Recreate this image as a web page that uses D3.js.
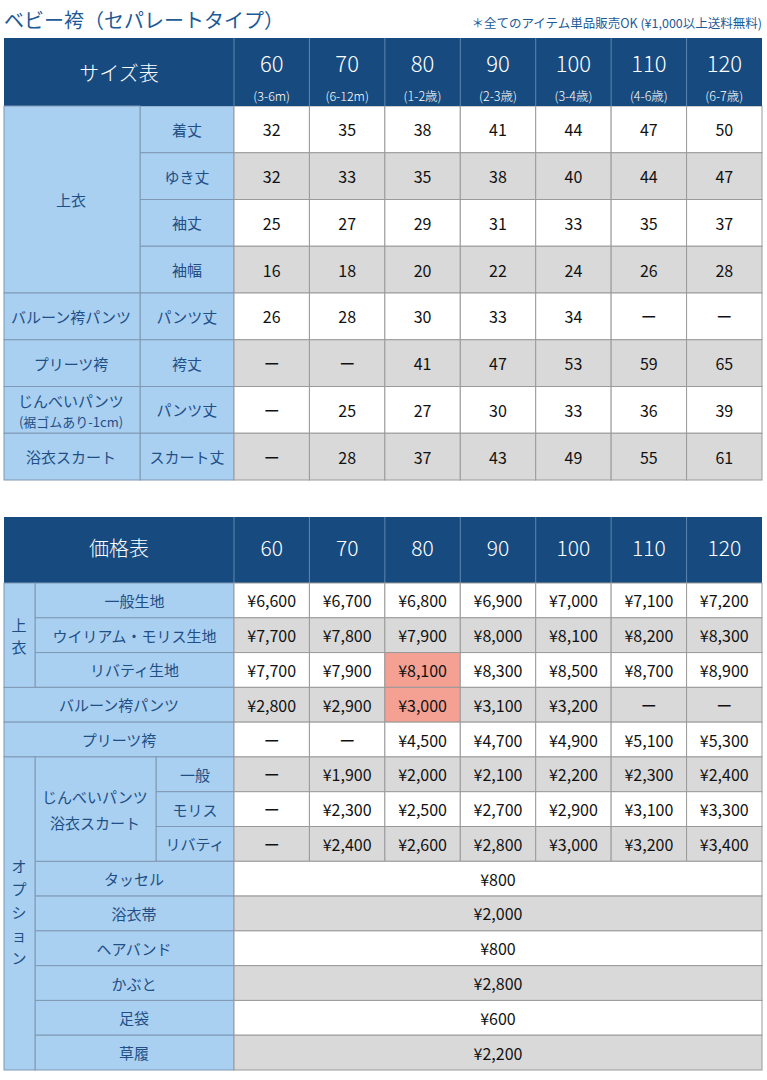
<!DOCTYPE html><html><head><meta charset="utf-8"><script src="https://cdn.jsdelivr.net/npm/d3@7"></script>
<style>body{margin:0;background:#fff}svg{display:block}text{font-family:"Noto Sans CJK JP",sans-serif}</style></head><body><svg id="c" width="767" height="1080"></svg>
<script>
const sizes=["60","70","80","90","100","110","120"];
const ages=["(3-6m)","(6-12m)","(1-2歳)","(2-3歳)","(3-4歳)","(4-6歳)","(6-7歳)"];
const sizeRows=["着丈","ゆき丈","袖丈","袖幅","パンツ丈","袴丈","パンツ丈","スカート丈"];
const sizeVals=[[32,35,38,41,44,47,50],[32,33,35,38,40,44,47],[25,27,29,31,33,35,37],[16,18,20,22,24,26,28],[26,28,30,33,34,"ー","ー"],["ー","ー",41,47,53,59,65],["ー",25,27,30,33,36,39],["ー",28,37,43,49,55,61]];
const priceVals=[["¥6,600","¥6,700","¥6,800","¥6,900","¥7,000","¥7,100","¥7,200"],["¥7,700","¥7,800","¥7,900","¥8,000","¥8,100","¥8,200","¥8,300"],["¥7,700","¥7,900","¥8,100","¥8,300","¥8,500","¥8,700","¥8,900"],["¥2,800","¥2,900","¥3,000","¥3,100","¥3,200","ー","ー"],["ー","ー","¥4,500","¥4,700","¥4,900","¥5,100","¥5,300"],["ー","¥1,900","¥2,000","¥2,100","¥2,200","¥2,300","¥2,400"],["ー","¥2,300","¥2,500","¥2,700","¥2,900","¥3,100","¥3,300"],["ー","¥2,400","¥2,600","¥2,800","¥3,000","¥3,200","¥3,400"]];
const optNames=["タッセル","浴衣帯","ヘアバンド","かぶと","足袋","草履"];
const optPrices=["¥800","¥2,000","¥800","¥2,800","¥600","¥2,200"];
const svg=d3.select("#c");
const NAVY="#174b7f",LB="#a9d0f1",GR="#d9d9d9",TXT="#1f4f86",LINE="#7f98b3";
const x=d3.scaleBand().domain(sizes).range([234,762]);
function rect(x0,y0,w,h,f,s){svg.append("rect").attr("x",x0).attr("y",y0).attr("width",w).attr("height",h).attr("fill",f).attr("stroke",s||"none").attr("stroke-width",1);}
function txt(t,cx,cy,sz,col,anchor){return svg.append("text").attr("x",cx).attr("y",cy).attr("text-anchor",anchor||"middle").attr("dominant-baseline","central").attr("font-size",sz).attr("fill",col).text(t);}
txt("ベビー袴（セパレートタイプ）",4,19,20,"#1d5a96","start");
txt("＊全てのアイテム単品販売OK (¥1,000以上送料無料)",762,22,12.5,"#1d5a96","end");
rect(4,38,758,70,NAVY);
txt("サイズ表",119,72,20,"#fff").attr("font-weight",300);
sizes.forEach((s,i)=>{const cx=x(s)+x.bandwidth()/2;txt(s,cx,62,22,"#fff").attr("font-weight",300);txt(ages[i],cx,95,12.5,"#fff").attr("font-weight",300);
 svg.append("line").attr("x1",x(s)).attr("x2",x(s)).attr("y1",38).attr("y2",108).attr("stroke","#5e86b0");});
const y1=d3.scaleBand().domain(d3.range(8)).range([106,480]);
const h1=y1.bandwidth();
sizeVals.forEach((row,r)=>{const y=y1(r),bg=r%2?GR:"#fff";
 rect(140,y,94,h1,LB,LINE);txt(sizeRows[r],187,y+h1/2,15,TXT);
 row.forEach((v,i)=>{rect(x(sizes[i]),y,x.bandwidth(),h1,bg,"#9a9a9a");txt(v,x(sizes[i])+x.bandwidth()/2,y+h1/2,16,"#111");});});
rect(4,38,758,68,NAVY);
txt("サイズ表",119,72,20,"#fff").attr("font-weight",300);
sizes.forEach((s,i)=>{const cx=x(s)+x.bandwidth()/2;txt(s,cx,62,22,"#fff").attr("font-weight",300);txt(ages[i],cx,95,12.5,"#fff").attr("font-weight",300);
 svg.append("line").attr("x1",x(s)).attr("x2",x(s)).attr("y1",38).attr("y2",106).attr("stroke","#5e86b0");});
const grp=[["上衣",0,4],["バルーン袴パンツ",4,1],["プリーツ袴",5,1],["じんべいパンツ",6,1],["浴衣スカート",7,1]];
grp.forEach(([n,s,k])=>{rect(4,y1(s),136,h1*k,LB,LINE);
 if(n==="じんべいパンツ"){txt(n,71,y1(s)+14,15,TXT);txt("(裾ゴムあり-1cm)",71,y1(s)+35,13,TXT);}
 else txt(n,71,y1(s)+h1*k/2,15,TXT);});
rect(4,517,758,66,NAVY);
txt("価格表",119,547,20,"#fff").attr("font-weight",300);
sizes.forEach(s=>{txt(s,x(s)+x.bandwidth()/2,547,21,"#fff").attr("font-weight",300);svg.append("line").attr("x1",x(s)).attr("x2",x(s)).attr("y1",517).attr("y2",583).attr("stroke","#5e86b0");});
const y2=d3.scaleBand().domain(d3.range(14)).range([583,1070]);
const h2=y2.bandwidth();
const priceLabels=[["一般生地",35,234],["ウイリアム・モリス生地",35,234],["リバティ生地",35,234],["バルーン袴パンツ",4,234],["プリーツ袴",4,234],["一般",156,234],["モリス",156,234],["リバティ",156,234]];
priceVals.forEach((row,r)=>{const y=y2(r),bg=r%2?GR:"#fff";const [n,a,b]=priceLabels[r];
 rect(a,y,b-a,h2,LB,LINE);txt(n,(a+b)/2,y+h2/2,15,TXT);
 row.forEach((v,i)=>{const hl=(i===2&&(r===2||r===3));rect(x(sizes[i]),y,x.bandwidth(),h2,hl?"#f4a193":bg,"#9a9a9a");txt(v,x(sizes[i])+x.bandwidth()/2,y+h2/2,16,"#111");});});
optNames.forEach((n,k)=>{const r=8+k,y=y2(r),bg=r%2?GR:"#fff";rect(35,y,199,h2,LB,LINE);txt(n,134,y+h2/2,15,TXT);rect(234,y,528,h2,bg,"#9a9a9a");txt(optPrices[k],498,y+h2/2,16,"#111");});
rect(4,y2(0),31,h2*3,LB,LINE);txt("上",19,y2(0)+h2*1.5-11,15,TXT);txt("衣",19,y2(0)+h2*1.5+11,15,TXT);
rect(35,y2(5),121,h2*3,LB,LINE);txt("じんべいパンツ",95,y2(5)+h2*1.5-13,15,TXT);txt("浴衣スカート",95,y2(5)+h2*1.5+13,15,TXT);
rect(4,y2(5),31,h2*9,LB,LINE);
"オプション".split("").forEach((c,i)=>txt(c,19,865+i*23,15,TXT));
</script></body></html>
